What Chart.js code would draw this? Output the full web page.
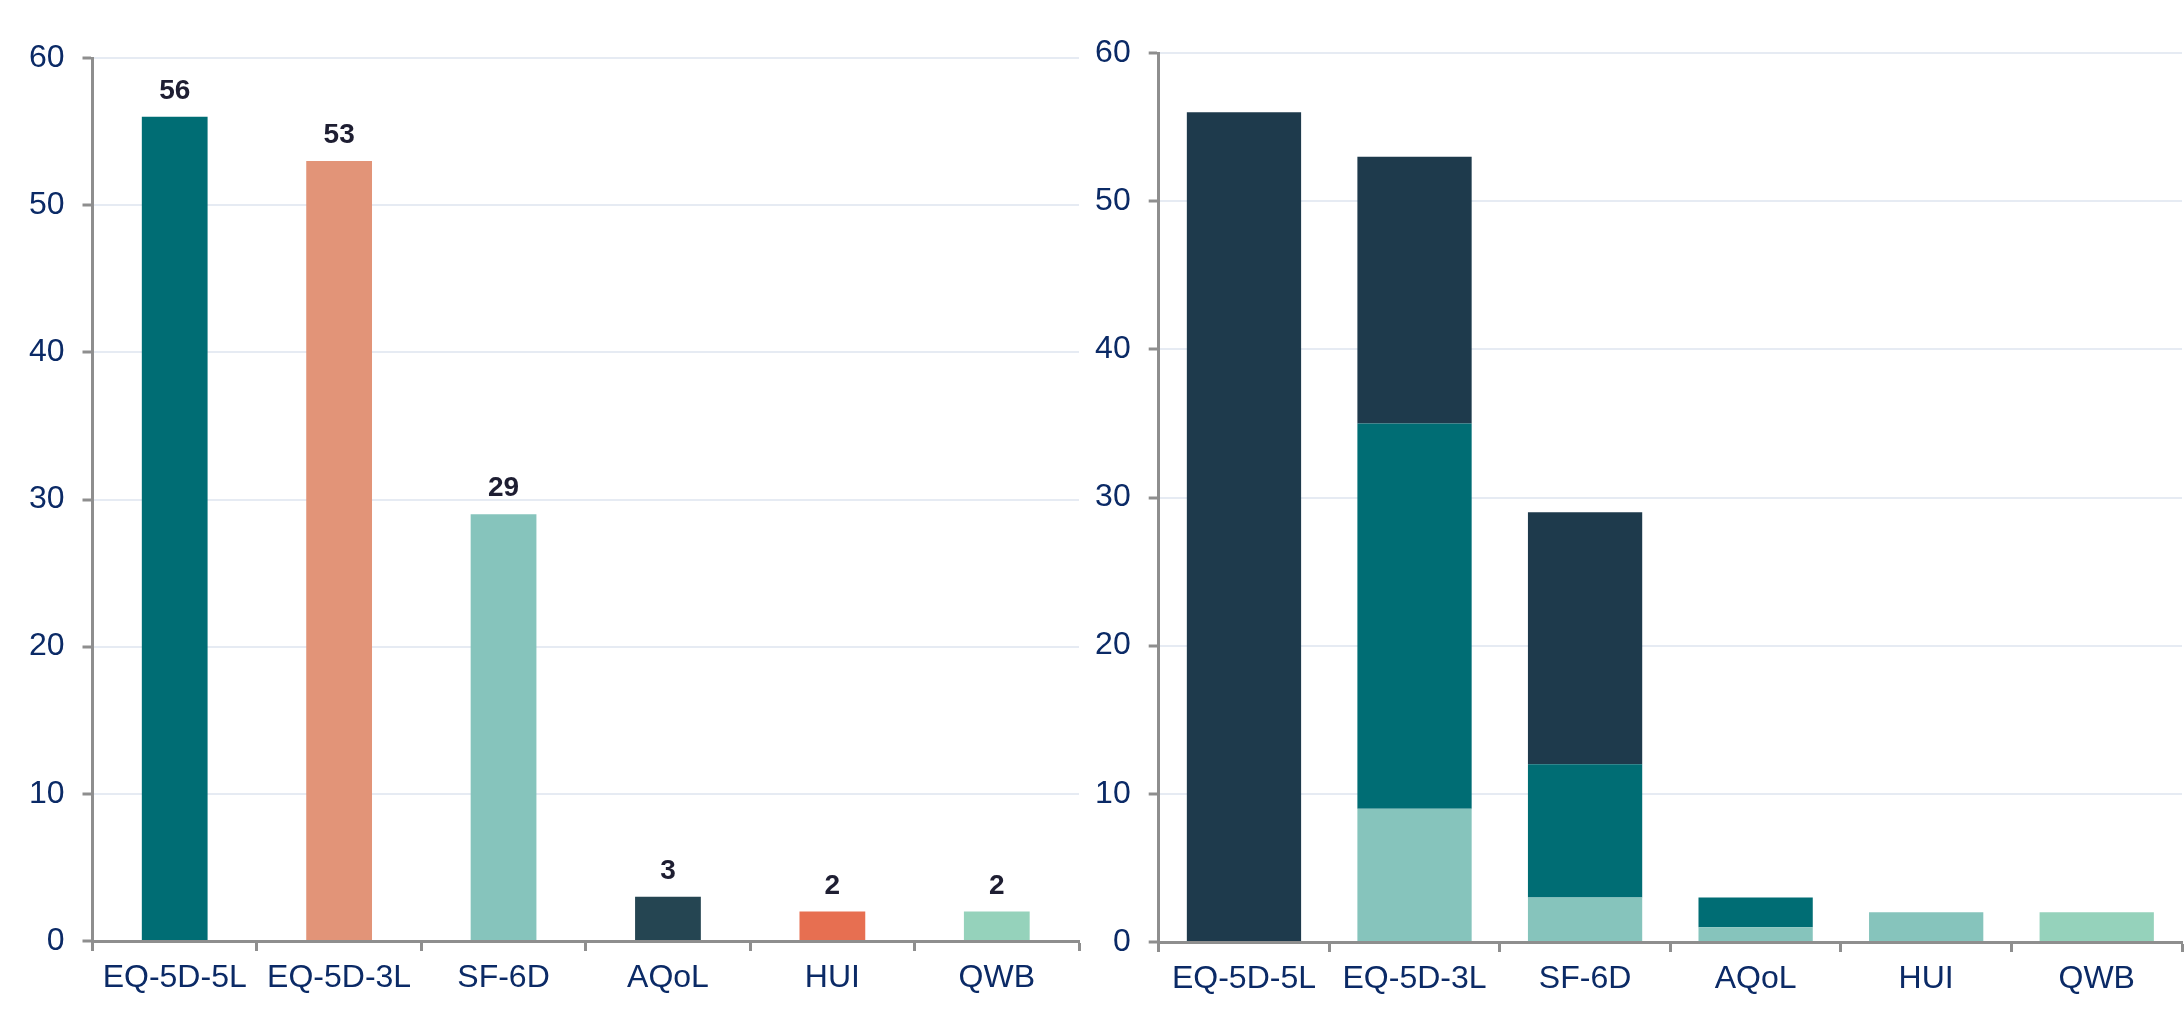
<!DOCTYPE html>
<html>
<head>
<meta charset="utf-8">
<title>Instrument counts</title>
<script src="https://cdn.jsdelivr.net/npm/chart.js@4/dist/chart.umd.min.js"></script>
<style>
  html, body { margin: 0; padding: 0; background: #ffffff; }
  .wrap { position: relative; width: 2184px; height: 1026px; overflow: hidden; }
  .panel { position: absolute; top: 0; height: 1026px; }
  #left-panel { left: 0; width: 1100px; }
  #right-panel { left: 1092px; width: 1092px; }
</style>
</head>
<body>
<div class="wrap">
  <div class="panel" id="left-panel"><canvas id="leftChart"></canvas></div>
  <div class="panel" id="right-panel"><canvas id="rightChart"></canvas></div>
</div>
<script>
// --- Data ---
const categories = ['EQ-5D-5L', 'EQ-5D-3L', 'SF-6D', 'AQoL', 'HUI', 'QWB'];
const totalCounts = [56, 53, 29, 3, 2, 2];
const totalColors = ['#006D74', '#E29478', '#86C4BC', '#254552', '#E76F51', '#95D2BB'];

// right panel, stacked from bottom to top
const lightTealCounts = [0, 9, 3, 1, 2, 0];
const tealCounts = [0, 26, 9, 2, 0, 0];
const navyCounts = [56, 18, 17, 0, 0, 0];
const mintCounts = [0, 0, 0, 0, 0, 2];

const yTickValues = [0, 10, 20, 30, 40, 50, 60];

// --- Shared styling ---
const FONT = '"Liberation Sans", Arial, sans-serif';
const AXIS_GREY = '#8E8E8E';
const GRID = '#E6EBF3';
const LABEL_NAVY = '#0B2A66';

Chart.defaults.font.family = FONT;
Chart.defaults.animation = false;

// draws the bold value above each bar
const valueLabels = {
    id: 'valueLabels',
    afterDatasetsDraw(chart) {
        const ctx = chart.ctx;
        const meta = chart.getDatasetMeta(0);
        const values = chart.data.datasets[0].data;
        ctx.save();
        ctx.font = 'bold 28px ' + FONT;
        ctx.fillStyle = '#1E1E32';
        ctx.textAlign = 'center';
        ctx.textBaseline = 'alphabetic';
        meta.data.forEach((bar, i) => {
            ctx.fillText(String(values[i]), bar.x, bar.y - 18);
        });
        ctx.restore();
    }
};

function buildScales(yWidth, xHeight) {
    return {
        x: {
            stacked: true,
            offset: true,
            afterFit: (scale) => { scale.height = xHeight; },
            border: { display: true, color: AXIS_GREY, width: 3 },
            grid: {
                offset: true,
                drawOnChartArea: false,
                drawTicks: true,
                tickLength: 10,
                tickColor: AXIS_GREY,
                tickWidth: 3
            },
            ticks: {
                color: LABEL_NAVY,
                padding: 8,
                font: { size: 32, family: FONT }
            }
        },
        y: {
            stacked: true,
            min: yTickValues[0],
            max: yTickValues[yTickValues.length - 1],
            afterFit: (scale) => { scale.width = yWidth; },
            afterBuildTicks: (scale) => {
                scale.ticks = yTickValues.map(v => ({ value: v }));
            },
            border: { display: true, color: AXIS_GREY, width: 3 },
            grid: {
                color: GRID,
                lineWidth: 2,
                drawTicks: true,
                tickLength: 10,
                tickColor: AXIS_GREY,
                tickWidth: 3
            },
            ticks: {
                color: LABEL_NAVY,
                padding: 18,
                font: { size: 32, family: FONT }
            }
        }
    };
}

// --- Left: totals per instrument ---
new Chart(document.getElementById('leftChart'), {
    type: 'bar',
    data: {
        labels: categories,
        datasets: [{
            label: 'Studies',
            data: totalCounts,
            backgroundColor: totalColors,
            borderWidth: 0,
            barPercentage: 0.4,
            categoryPercentage: 1
        }]
    },
    options: {
        responsive: true,
        maintainAspectRatio: false,
        layout: { padding: { top: 58, right: 21, left: 0, bottom: 0 } },
        plugins: {
            legend: { display: false },
            tooltip: { enabled: false }
        },
        scales: buildScales(92.5, 85)
    },
    plugins: [valueLabels]
});

// --- Right: stacked breakdown ---
const stackSets = [
    { data: lightTealCounts, color: '#86C4BC' },
    { data: tealCounts, color: '#006D74' },
    { data: navyCounts, color: '#1E3A4C' },
    { data: mintCounts, color: '#95D2BB' }
];

new Chart(document.getElementById('rightChart'), {
    type: 'bar',
    data: {
        labels: categories,
        datasets: stackSets.map((s, i) => ({
            label: 'Group ' + (i + 1),
            data: s.data,
            backgroundColor: s.color,
            borderWidth: 0,
            barPercentage: 0.67,
            categoryPercentage: 1
        }))
    },
    options: {
        responsive: true,
        maintainAspectRatio: false,
        layout: { padding: { top: 53, right: 2, left: 0, bottom: 0 } },
        plugins: {
            legend: { display: false },
            tooltip: { enabled: false }
        },
        scales: buildScales(66.7, 84)
    }
});
</script>
</body>
</html>
